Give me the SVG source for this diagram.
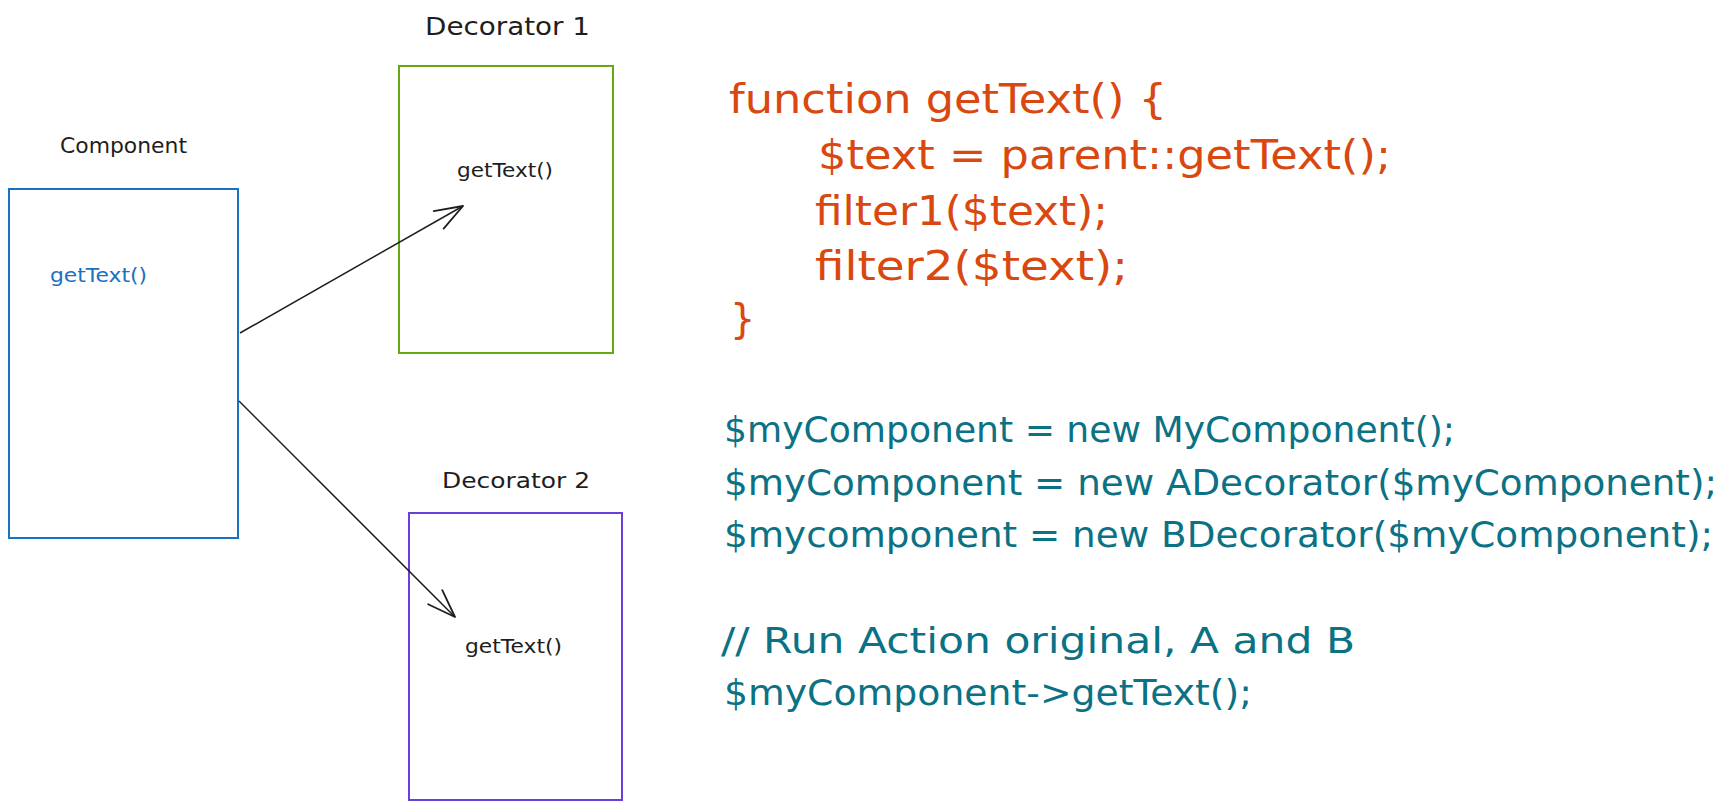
<svg xmlns="http://www.w3.org/2000/svg" width="1730" height="810" viewBox="0 0 1730 810">
  <style>
    .lbl { font-family: "DejaVu Sans", "Liberation Sans", sans-serif; fill: #1e1e1e; }
    .box { fill: none; stroke-width: 2; }
    .code-o { font-family: "DejaVu Sans", "Liberation Sans", sans-serif; font-size: 40px; fill: #d9480f; }
    .code-t { font-family: "DejaVu Sans", "Liberation Sans", sans-serif; font-size: 36px; fill: #0b7285; }
    .conn { stroke: #1e1e1e; stroke-width: 1.5; fill: none; }
  </style>
  <defs>
    <marker id="arr" markerUnits="userSpaceOnUse" markerWidth="40" markerHeight="30" refX="0" refY="0" viewBox="-32 -15 40 30" orient="auto" overflow="visible">
      <path d="M -28 -10 L 0 0 L -28 10" fill="none" stroke="#1e1e1e" stroke-width="1.8" stroke-linecap="round" stroke-linejoin="round"/>
    </marker>
  </defs>
  <rect width="1730" height="810" fill="#ffffff"/>

  <g id="component">
    <text class="lbl" x="60" y="153" font-size="22" textLength="127" lengthAdjust="spacingAndGlyphs">Component</text>
    <rect class="box" x="9" y="189" width="229" height="349" stroke="#1971c2"/>
    <text x="50" y="282" font-family="DejaVu Sans, Liberation Sans, sans-serif" font-size="19" fill="#1971c2" textLength="97" lengthAdjust="spacingAndGlyphs">getText()</text>
  </g>

  <g id="decorator1">
    <text class="lbl" x="425" y="35" font-size="25" textLength="165" lengthAdjust="spacingAndGlyphs">Decorator 1</text>
    <rect class="box" x="399" y="66" width="214" height="287" stroke="#66a80f"/>
    <text class="lbl" x="457" y="177" font-size="19" textLength="96" lengthAdjust="spacingAndGlyphs">getText()</text>
  </g>

  <g id="decorator2">
    <text class="lbl" x="442" y="488" font-size="22" textLength="148" lengthAdjust="spacingAndGlyphs">Decorator 2</text>
    <rect class="box" x="409" y="513" width="213" height="287" stroke="#6741d9"/>
    <text class="lbl" x="465" y="653" font-size="19" textLength="97" lengthAdjust="spacingAndGlyphs">getText()</text>
  </g>

  <g id="connectors">
    <line class="conn" x1="240" y1="333" x2="463" y2="206" marker-end="url(#arr)"/>
    <line class="conn" x1="239" y1="401" x2="455" y2="617" marker-end="url(#arr)"/>
  </g>

  <g id="code-function">
    <text class="code-o" x="729" y="113" textLength="438" lengthAdjust="spacingAndGlyphs">function getText() {</text>
    <text class="code-o" x="818" y="169" textLength="573" lengthAdjust="spacingAndGlyphs">$text = parent::getText();</text>
    <text class="code-o" x="815" y="225" textLength="293" lengthAdjust="spacingAndGlyphs">filter1($text);</text>
    <text class="code-o" x="815" y="280" textLength="313" lengthAdjust="spacingAndGlyphs">filter2($text);</text>
    <text class="code-o" x="730" y="333">}</text>
  </g>

  <g id="code-usage">
    <text class="code-t" x="724" y="442" textLength="731" lengthAdjust="spacingAndGlyphs">$myComponent = new MyComponent();</text>
    <text class="code-t" x="724" y="495" textLength="993" lengthAdjust="spacingAndGlyphs">$myComponent = new ADecorator($myComponent);</text>
    <text class="code-t" x="724" y="547" textLength="989" lengthAdjust="spacingAndGlyphs">$mycomponent = new BDecorator($myComponent);</text>
    <text class="code-t" x="721" y="653" textLength="634" lengthAdjust="spacingAndGlyphs">// Run Action original, A and B</text>
    <text class="code-t" x="724" y="705" textLength="528" lengthAdjust="spacingAndGlyphs">$myComponent-&gt;getText();</text>
  </g>
</svg>
